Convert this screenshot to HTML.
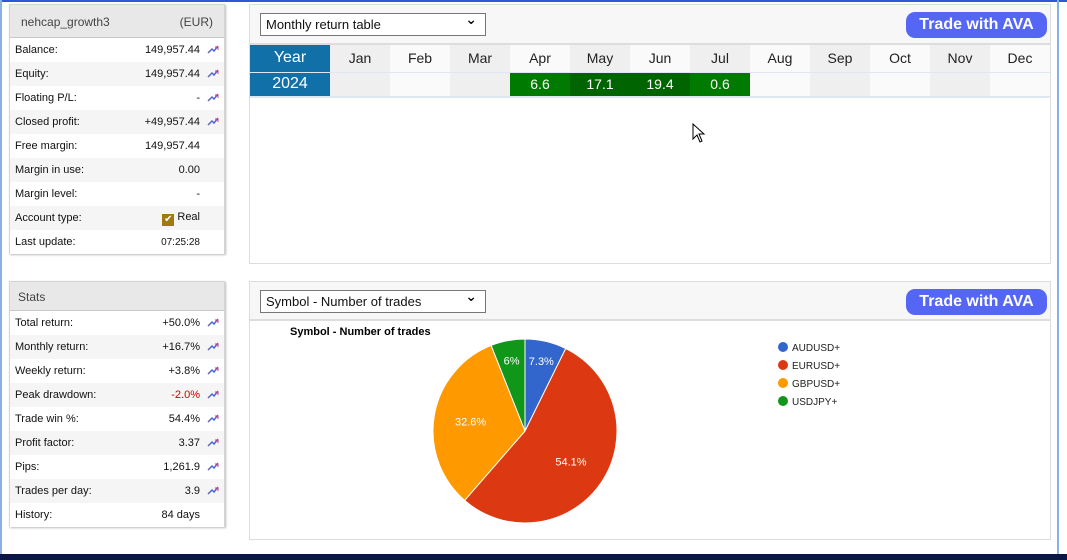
<!DOCTYPE html>
<html><head><meta charset="utf-8"><style>
*{box-sizing:border-box;margin:0;padding:0}
body{width:1067px;height:560px;background:#fff;position:relative;overflow:hidden;font-family:"Liberation Sans","DejaVu Sans",sans-serif;}
.abs{position:absolute}
.box{position:absolute;background:#fff;border:1px solid #d4d4d4;box-shadow:1px 1px 2px #bbb}
.hdr{height:33px;background:#e8e8e8;border-bottom:1px solid #c8c8c8;font-size:12px;color:#444;padding:10px 11px;display:flex;justify-content:space-between}
.row{height:24px;display:flex;align-items:center;font-size:11px;color:#111;padding-left:5px;position:relative}
.row .v{position:absolute;right:24px}
.row .ic{position:absolute;right:5px;top:6px;width:12px;height:10px}
.panel{position:absolute;border:1px solid #ddd;background:#fff}
.ph{height:40px;background:#f7f7f7;border-bottom:2px solid #ddd;position:relative}
.sel{position:absolute;left:10px;top:8px;width:226px;height:23px;border:1px solid #777;background:#fff;font-size:13px;padding:3px 5px;color:#111}
.sel:after{content:"⌄";position:absolute;right:8px;top:-3px;font-size:14px;font-weight:bold}
.btn{position:absolute;right:3px;top:7px;width:141px;height:26px;background:#5566f5;border-radius:9px;color:#fff;font-weight:bold;font-size:16px;text-align:center;line-height:26px}
table{border-collapse:collapse;font-size:14px;color:#222}
td{height:25px;text-align:center;width:60px}
tr:first-child td{height:27px}
</style></head><body>
<div class="abs" style="left:0;top:0;width:1067px;height:2px;background:#2a5ad8"></div>
<div class="abs" style="left:0;top:0;width:2px;height:555px;background:#8ab0e8"></div>
<div class="abs" style="left:1057px;top:0;width:2px;height:555px;background:#8ab0e8"></div>
<div class="abs" style="left:0;top:554px;width:1067px;height:6px;background:#0b1648"></div>

<div class="box" style="left:9px;top:4px;width:216px;height:250px">
<div class="hdr"><span>nehcap_growth3</span><span>(EUR)</span></div>
<div>
<div class="row" style="background:#fff">Balance:<span class="v">149,957.44</span><svg class="ic" viewBox="0 0 12 10"><path d="M1 9L5 5L7 7L11 2" stroke="#56c" fill="none" stroke-width="1.5"/><path d="M8 3h3v3" stroke="#d37" fill="none"/></svg></div>
<div class="row" style="background:#f5f5f5">Equity:<span class="v">149,957.44</span><svg class="ic" viewBox="0 0 12 10"><path d="M1 9L5 5L7 7L11 2" stroke="#56c" fill="none" stroke-width="1.5"/><path d="M8 3h3v3" stroke="#d37" fill="none"/></svg></div>
<div class="row" style="background:#fff">Floating P/L:<span class="v">-</span><svg class="ic" viewBox="0 0 12 10"><path d="M1 9L5 5L7 7L11 2" stroke="#56c" fill="none" stroke-width="1.5"/><path d="M8 3h3v3" stroke="#d37" fill="none"/></svg></div>
<div class="row" style="background:#f5f5f5">Closed profit:<span class="v">+49,957.44</span><svg class="ic" viewBox="0 0 12 10"><path d="M1 9L5 5L7 7L11 2" stroke="#56c" fill="none" stroke-width="1.5"/><path d="M8 3h3v3" stroke="#d37" fill="none"/></svg></div>
<div class="row" style="background:#fff">Free margin:<span class="v">149,957.44</span></div>
<div class="row" style="background:#f5f5f5">Margin in use:<span class="v">0.00</span></div>
<div class="row" style="background:#fff">Margin level:<span class="v">-</span></div>
<div class="row" style="background:#f5f5f5">Account type:<span class="v"><span style="display:inline-block;width:12px;height:12px;background:#a07a10;color:#fff;font-size:10px;line-height:12px;text-align:center;vertical-align:-2px">✔</span> Real</span></div>
<div class="row" style="background:#fff">Last update:<span class="v" style="font-size:10px">07:25:28</span></div>
</div></div>

<div class="box" style="left:9px;top:281px;width:216px;height:246px">
<div class="hdr" style="height:29px;padding:8px 8px"><span>Stats</span></div>
<div id="stats"></div></div>

<div class="panel" style="left:249px;top:4px;width:802px;height:260px">
<div class="ph"><div class="sel">Monthly return table</div><div class="btn">Trade with AVA</div></div>
<table id="mt" style="margin-left:0"></table>
<svg class="abs" style="left:442px;top:118px" width="14" height="22" viewBox="0 0 14 22"><path d="M1 1L1 16L5 12L8 19L10 18L7 11L12 11Z" fill="#fff" stroke="#000"/></svg>
</div>

<div class="panel" style="left:249px;top:281px;width:802px;height:259px">
<div class="ph" style="height:39px"><div class="sel">Symbol - Number of trades</div><div class="btn">Trade with AVA</div></div>
<svg id="pie" class="abs" style="left:0;top:39px" width="800" height="218"></svg>
</div>

<script>
const statLabels=["Total return:","Monthly return:","Weekly return:","Peak drawdown:","Trade win %:","Profit factor:","Pips:","Trades per day:","History:"];
const statValues=["+50.0%","+16.7%","+3.8%","-2.0%","54.4%","3.37","1,261.9","3.9","84 days"];
const st=document.getElementById('stats');
statLabels.forEach((l,i)=>{const r=document.createElement('div');r.className='row';r.style.background=i%2?'#f5f5f5':'#fff';


r.innerHTML=l+'<span class="v" style="'+(statValues[i][0]=='-'?'color:#c00':'')+'">'+statValues[i]+'</span>'+(i<8?'<svg class="ic" viewBox="0 0 12 10"><path d="M1 9L5 5L7 7L11 2" stroke="#56c" fill="none" stroke-width="1.5"/><path d="M8 3h3v3" stroke="#d37" fill="none"/></svg>':'');st.appendChild(r);});

const months=["Jan","Feb","Mar","Apr","May","Jun","Jul","Aug","Sep","Oct","Nov","Dec"];
const years=["2024"];
const returns=[[null,null,null,6.6,17.1,19.4,0.6,null,null,null,null,null]];
const mt=document.getElementById('mt');
let h='<tr><td style="width:80px;background:#1170a8;color:#fff;font-size:16px">Year</td>';
months.forEach((m,i)=>{h+='<td style="background:'+(i%2?'#fafafa':'#efefef')+'">'+m+'</td>';});
h+='</tr>';
years.forEach((y,yi)=>{h+='<tr style="border-top:1px solid #dde8f4;border-bottom:2px solid #dde8f4"><td style="background:#1170a8;color:#fff;font-size:16px">'+y+'</td>';
returns[yi].forEach((v,i)=>{let bg=v==null?(i%2?'#fafafa':'#efefef'):(v>15?'#006400':'#007a00');
h+='<td style="background:'+bg+';color:#fff">'+(v==null?'':v)+'</td>';});h+='</tr>';});
mt.innerHTML=h;

const symbols=["AUDUSD+","EURUSD+","GBPUSD+","USDJPY+"];
const shares=[7.3,54.1,32.6,6];
const colors=["#3366cc","#dc3912","#ff9900","#109618"];
const svg=document.getElementById('pie');const NS='http://www.w3.org/2000/svg';
const cx=275,cy=110,R=92;
const t=document.createElementNS(NS,'text');t.setAttribute('x',40);t.setAttribute('y',14);t.setAttribute('font-size','11');t.setAttribute('font-weight','bold');t.textContent='Symbol - Number of trades';


svg.appendChild(t);
const tot=shares.reduce((a,b)=>a+b,0);let a0=0;
shares.forEach((s,i)=>{const a1=a0+s/tot*2*Math.PI;
const p=(a)=>[cx+R*Math.sin(a),cy-R*Math.cos(a)];const [x0,y0]=p(a0),[x1,y1]=p(a1);
const path=document.createElementNS(NS,'path');
path.setAttribute('d',`M${cx},${cy}L${x0},${y0}A${R},${R} 0 ${a1-a0>Math.PI?1:0} 1 ${x1},${y1}Z`);
path.setAttribute('fill',colors[i]);path.setAttribute('stroke','#fff');path.setAttribute('stroke-width','1');


svg.appendChild(path);
const am=(a0+a1)/2;const lr=s<10?R*0.78:R*0.6;
const lt=document.createElementNS(NS,'text');lt.setAttribute('x',cx+lr*Math.sin(am));lt.setAttribute('y',cy-lr*Math.cos(am)+4);
lt.setAttribute('text-anchor','middle');lt.setAttribute('fill','#fff');lt.setAttribute('font-size','11');lt.textContent=s+'%';


svg.appendChild(lt);
const g=document.createElementNS(NS,'g');


const c=document.createElementNS(NS,'circle');c.setAttribute('cx',533);c.setAttribute('cy',26+i*18);c.setAttribute('r',5);c.setAttribute('fill',colors[i]);g.appendChild(c);
const tx=document.createElementNS(NS,'text');tx.setAttribute('x',542);tx.setAttribute('y',30+i*18);tx.setAttribute('font-size','10');tx.setAttribute('fill','#222');tx.textContent=symbols[i];g.appendChild(tx);
svg.appendChild(g);a0=a1;});
</script>
</body></html>
